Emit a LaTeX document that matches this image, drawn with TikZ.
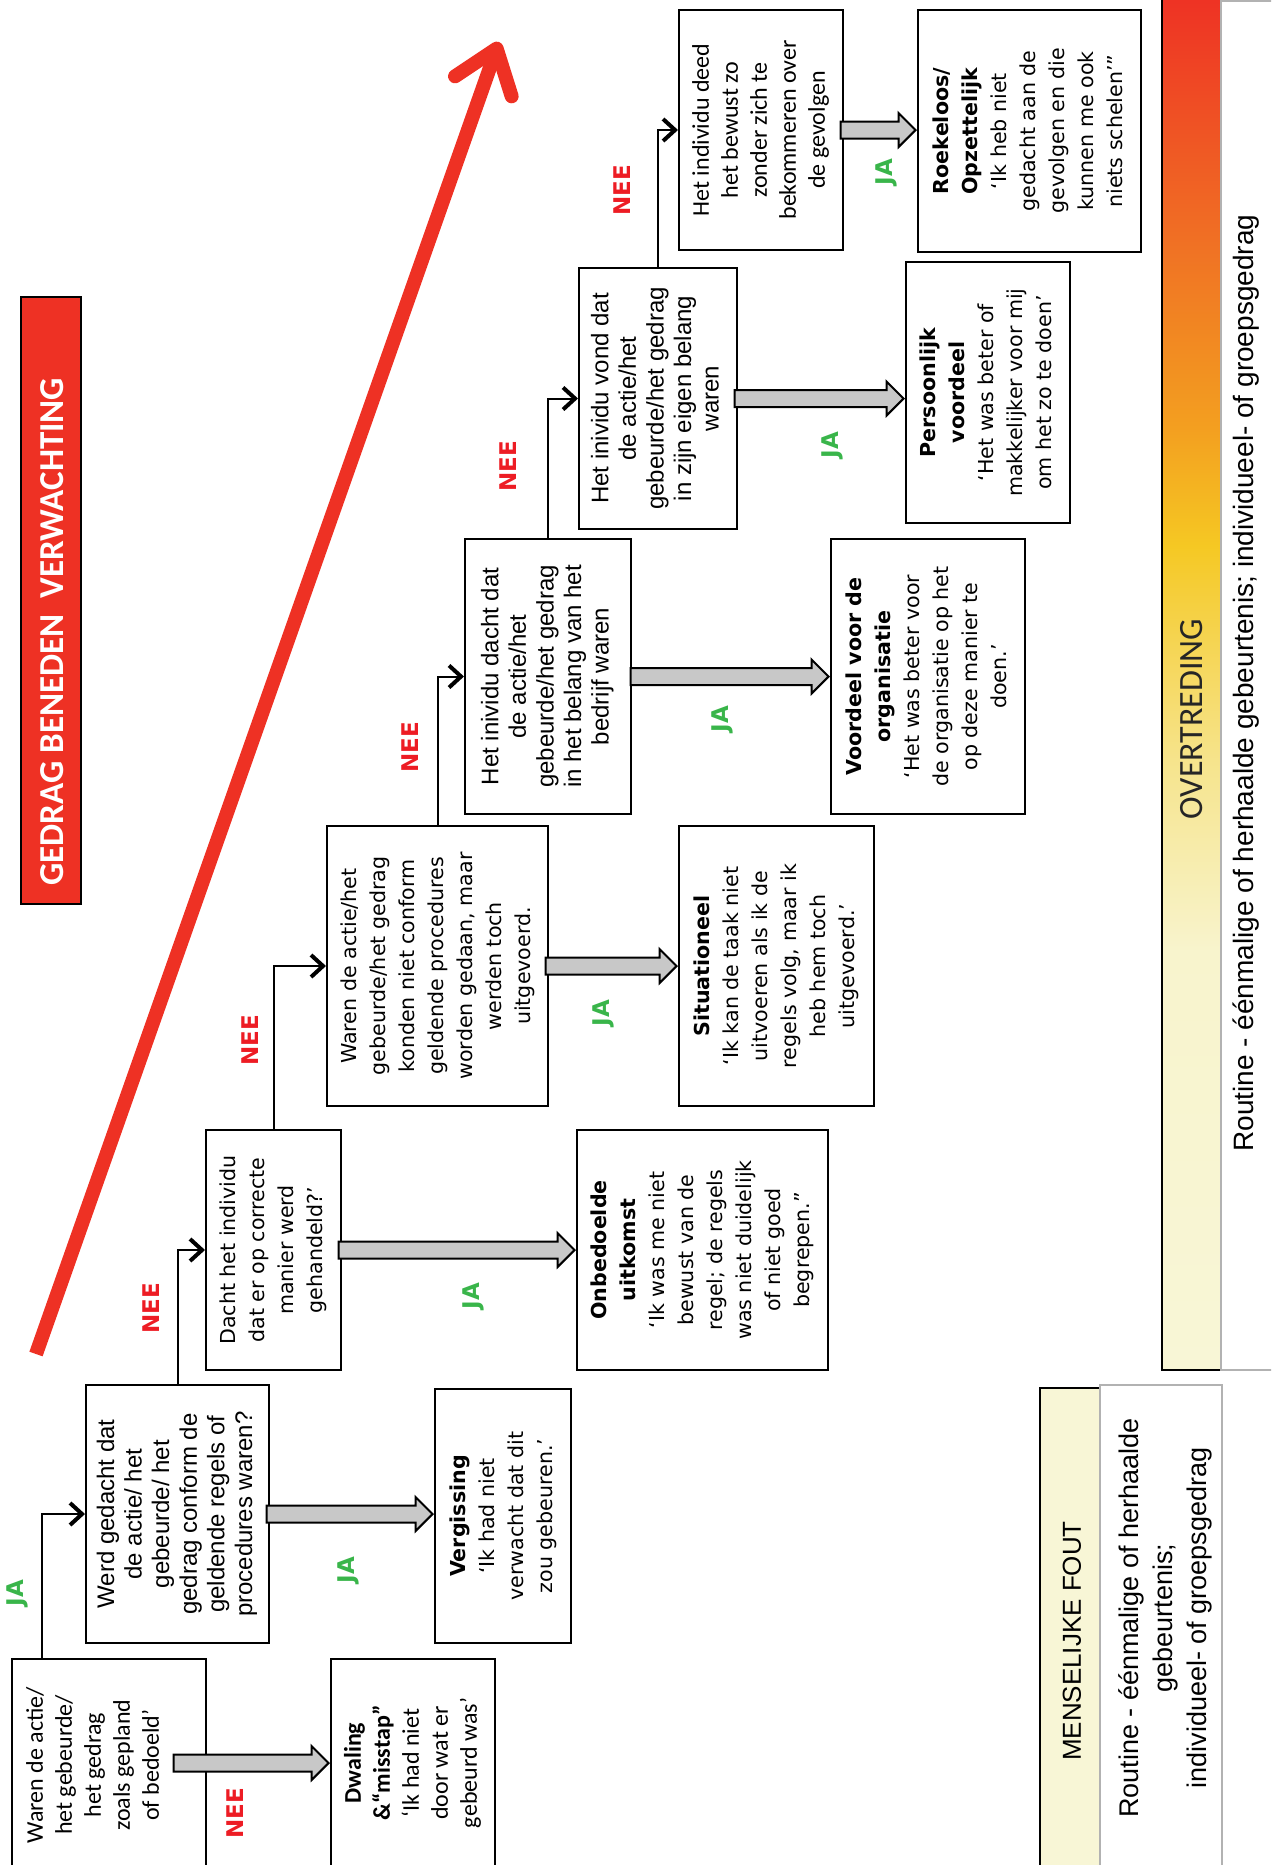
\documentclass[tikz,border=0pt]{standalone}
\usepackage{graphicx}
\usepackage{xcolor}
\usepackage{fontspec}
\usepackage{tikz}
\usetikzlibrary{arrows.meta,shapes.arrows,calc}

\setmainfont{Liberation Sans}
\newfontfamily\arifont{Liberation Sans}
\newfontfamily\calfont{Carlito}
\newfontfamily\tahfont{DejaVu Sans}

\definecolor{vred}{RGB}{238,49,36}
\definecolor{neered}{RGB}{237,28,36}
\definecolor{jagreen}{RGB}{57,181,74}
\definecolor{arrowgray}{RGB}{200,200,200}
\definecolor{cream}{RGB}{248,246,214}
\definecolor{barA}{RGB}{238,50,36}
\definecolor{barB}{RGB}{240,112,36}
\definecolor{barC}{RGB}{243,160,32}
\definecolor{barD}{RGB}{245,200,35}
\definecolor{barE}{RGB}{246,228,140}
\definecolor{barF}{RGB}{248,244,205}

% vertical text block
\newcommand{\vt}[1]{\rotatebox{90}{\begin{tabular}{@{}c@{}}#1\end{tabular}}}

\tikzset{
  qbox/.style={draw, line width=1pt, inner sep=0pt},
  calbox/.style={qbox, font=\calfont\fontsize{12}{14.5}\selectfont},
  tahbox/.style={qbox, font=\tahfont\fontsize{10.3}{14.5}\selectfont},
  aribox/.style={qbox, font=\arifont\fontsize{12}{13.8}\selectfont},
  conn/.style={line width=1pt, -{Straight Barb[length=6pt,width=11pt,line width=2pt]}},
  grayarrow/.style={single arrow, draw, line width=1pt, fill=arrowgray, inner sep=0pt,
    text height=7.5pt, text depth=0pt, minimum width=16pt,
    single arrow head extend=4.25pt, single arrow head indent=0pt},
  neelab/.style={text=neered, inner sep=0pt, font=\tahfont\bfseries\fontsize{11.5}{13}\selectfont},
  jalab/.style={text=jagreen, inner sep=0pt, font=\tahfont\bfseries\fontsize{11.5}{13}\selectfont},
  redarrow/.style={draw=vred, line width=7pt, -{Straight Barb[length=20pt,width=30pt,round]}},
}

\begin{document}
\begin{tikzpicture}[x=0.5pt,y=-0.5pt]
\path[use as bounding box] (0,0) rectangle (1271,1865);
\clip (0,0) rectangle (1271,1865);

%Shape: Big arrow
\coordinate (rtail) at (36,1354);
\coordinate (rtip) at (499,42);
\draw[redarrow] (rtail) -- (rtip);

%Shape: Title box
\node[draw, line width=1pt, fill=vred, minimum width=30pt, minimum height=303.5pt] (tbox) at (51,600.5) {};
% Text Node
\node[anchor=south, inner sep=0pt, text=white, font=\calfont\bfseries\fontsize{17.5}{20}\selectfont] (ttxt) at (52,886) {\rotatebox{90}{GEDRAG BENEDEN\ \ VERWACHTING}};

%Shape: Gradient bar
\shade[top color=barA, bottom color=barB] (1162,-2) rectangle (1221,241);
\shade[top color=barB, bottom color=barC] (1162,240) rectangle (1221,431);
\shade[top color=barC, bottom color=barD] (1162,430) rectangle (1221,546);
\shade[top color=barD, bottom color=barE] (1162,545) rectangle (1221,761);
\shade[top color=barE, bottom color=barF] (1162,760) rectangle (1221,951);
\shade[top color=barF, bottom color=cream] (1162,950) rectangle (1221,1370);
\draw[line width=0.9pt] (1162,-2) rectangle (1221,1370);
\draw[gray!60, line width=1pt] (1221,1) rectangle (1290,1370);
% Text Node
\node[inner sep=0pt, text=black!85, font=\calfont\fontsize{17}{20}\selectfont] (otxt) at (1192,719) {\rotatebox{90}{OVERTREDING}};
% Text Node
\node[inner sep=0pt, font=\arifont\fontsize{14}{16}\selectfont] (rtxt) at (1246,683) {\rotatebox{90}{Routine - éénmalige of herhaalde gebeurtenis; individueel- of groepsgedrag}};

%Shape: Menselijke fout
\draw[fill=cream, line width=1pt] (1040,1388) rectangle (1100,1880);
\draw[gray!60, line width=1pt] (1100,1385) rectangle (1222,1880);
% Text Node
\node[inner sep=0pt, font=\arifont\fontsize{13}{15}\selectfont] (mtxt) at (1072,1641) {\rotatebox{90}{MENSELIJKE FOUT}};
% Text Node
\node[inner sep=0pt, font=\arifont\fontsize{13.5}{17}\selectfont] (mrtxt) at (1166,1618) {\vt{Routine - éénmalige of herhaalde\\gebeurtenis;\\individueel- of groepsgedrag}};

%Questions
\node[calbox, minimum width=97pt, minimum height=104pt] (b1) at (109,1763) {};
\node[inner sep=0pt, font=\calfont\fontsize{12}{14.5}\selectfont] (b1t) at (95,1765) {\vt{Waren de actie/\\het gebeurde/\\het gedrag\\zoals gepland\\of bedoeld’}};
\node[aribox, minimum width=91.5pt, minimum height=129pt] (b2) at (177.5,1514) {\vt{Werd gedacht dat\\de actie/ het\\gebeurde/ het\\gedrag conform de\\geldende regels of\\procedures waren?}};
\node[tahbox, minimum width=67.5pt, minimum height=120pt] (b3) at (273.5,1250) {\vt{Dacht het individu\\dat er op correcte\\manier werd\\gehandeld?’}};
\node[tahbox, minimum width=110.5pt, minimum height=140pt] (b4) at (437.5,966) {\vt{Waren de  actie/het\\gebeurde/het gedrag\\konden niet conform\\geldende procedures\\worden gedaan, maar\\werden toch\\uitgevoerd.}};
\node[aribox, minimum width=83pt, minimum height=137.5pt] (b5) at (548,676.5) {\vt{Het inividu dacht dat\\de actie/het\\gebeurde/het gedrag\\in het belang van het\\bedrijf waren}};
\node[aribox, minimum width=79pt, minimum height=130.5pt] (b6) at (658,398.5) {\vt{Het inividu vond dat\\de actie/het\\gebeurde/het gedrag\\in zijn eigen belang\\waren}};
\node[calbox, minimum width=82pt, minimum height=120pt] (b7) at (761,130) {\vt{Het individu deed\\het bewust zo\\zonder zich te\\bekommeren over\\de gevolgen}};

%Outcomes
\node[calbox, minimum width=82pt, minimum height=104pt] (d1) at (413,1763) {\vt{\textbf{Dwaling}\\\textbf{\&“misstap”}\\‘Ik had niet\\door wat er\\gebeurd was’}};
\node[tahbox, minimum width=68pt, minimum height=127pt] (d2) at (503,1516) {\vt{\textbf{Vergissing}\\‘Ik had niet\\verwacht dat dit\\zou gebeuren.’}};
\node[tahbox, minimum width=125.5pt, minimum height=120pt] (d3) at (702.5,1250) {\vt{\textbf{Onbedoelde}\\\textbf{uitkomst}\\‘Ik was me niet\\bewust van de\\regel; de regels\\was niet duidelijk\\of niet goed\\begrepen.”}};
\node[tahbox, minimum width=97.5pt, minimum height=140pt] (d4) at (776.5,966) {\vt{\textbf{Situationeel}\\‘Ik kan de taak niet\\uitvoeren als ik de\\regels volg, maar ik\\heb hem toch\\uitgevoerd.’}};
\node[tahbox, minimum width=97pt, minimum height=137.5pt] (d5) at (928,676.5) {\vt{\textbf{Voordeel voor de}\\\textbf{organisatie}\\‘Het was beter voor\\de organisatie op het\\op deze manier te\\doen.’}};
\node[tahbox, minimum width=82pt, minimum height=130.5pt] (d6) at (988,392.5) {\vt{\textbf{Persoonlijk}\\\textbf{voordeel}\\‘Het was beter of\\makkelijker voor mij\\om het zo te doen’}};
\node[tahbox, minimum width=111.5pt, minimum height=121pt] (d7) at (1029.5,131) {\vt{\textbf{Roekeloos/}\\\textbf{Opzettelijk}\\‘Ik heb niet\\gedacht aan de\\gevolgen en die\\kunnen me ook\\niets schelen’”}};

%Straight Lines
\draw[conn] ([xshift=-33.5pt]b1.north) |- (b2.west);
\draw[conn] (b2.north) |- (b3.west);
\draw[conn] (b3.north) |- (b4.west);
\draw[conn] (b4.north) |- (b5.west);
\draw[conn] (b5.north) |- (b6.west);
\draw[conn] (b6.north) |- (b7.west);

%Block arrows
\node[grayarrow, minimum height=77.5pt, anchor=tip] (a1) at (d1.west |- b1.east) {};
\node[grayarrow, minimum height=83pt, anchor=tip] (a2) at (d2.west |- b2.east) {};
\node[grayarrow, minimum height=118pt, anchor=tip] (a3) at (d3.west |- b3.east) {};
\node[grayarrow, minimum height=65.5pt, anchor=tip] (a4) at (d4.west |- b4.east) {};
\node[grayarrow, minimum height=99pt, anchor=tip] (a5) at (d5.west |- b5.east) {};
\node[grayarrow, minimum height=84.5pt, anchor=tip] (a6) at (d6.west |- b6.east) {};
\node[grayarrow, minimum height=37.5pt, anchor=tip] (a7) at (d7.west |- b7.east) {};

% Text Node
\node[jalab] (ja1) at (17,1593) {\rotatebox{90}{JA}};
\node[neelab] (nee1) at (235,1813) {\rotatebox{90}{NEE}};
\node[jalab] (ja2) at (348,1570) {\rotatebox{90}{JA}};
\node[neelab] (nee2) at (151,1308) {\rotatebox{90}{NEE}};
\node[jalab] (ja3) at (473,1296) {\rotatebox{90}{JA}};
\node[neelab] (nee3) at (250,1040) {\rotatebox{90}{NEE}};
\node[jalab] (ja4) at (603,1013) {\rotatebox{90}{JA}};
\node[neelab] (nee4) at (410,747) {\rotatebox{90}{NEE}};
\node[jalab] (ja5) at (722,719) {\rotatebox{90}{JA}};
\node[neelab] (nee5) at (508,466) {\rotatebox{90}{NEE}};
\node[jalab] (ja6) at (832,445) {\rotatebox{90}{JA}};
\node[neelab] (nee6) at (622,190) {\rotatebox{90}{NEE}};
\node[jalab] (ja7) at (886,172) {\rotatebox{90}{JA}};

\end{tikzpicture}
\end{document}
